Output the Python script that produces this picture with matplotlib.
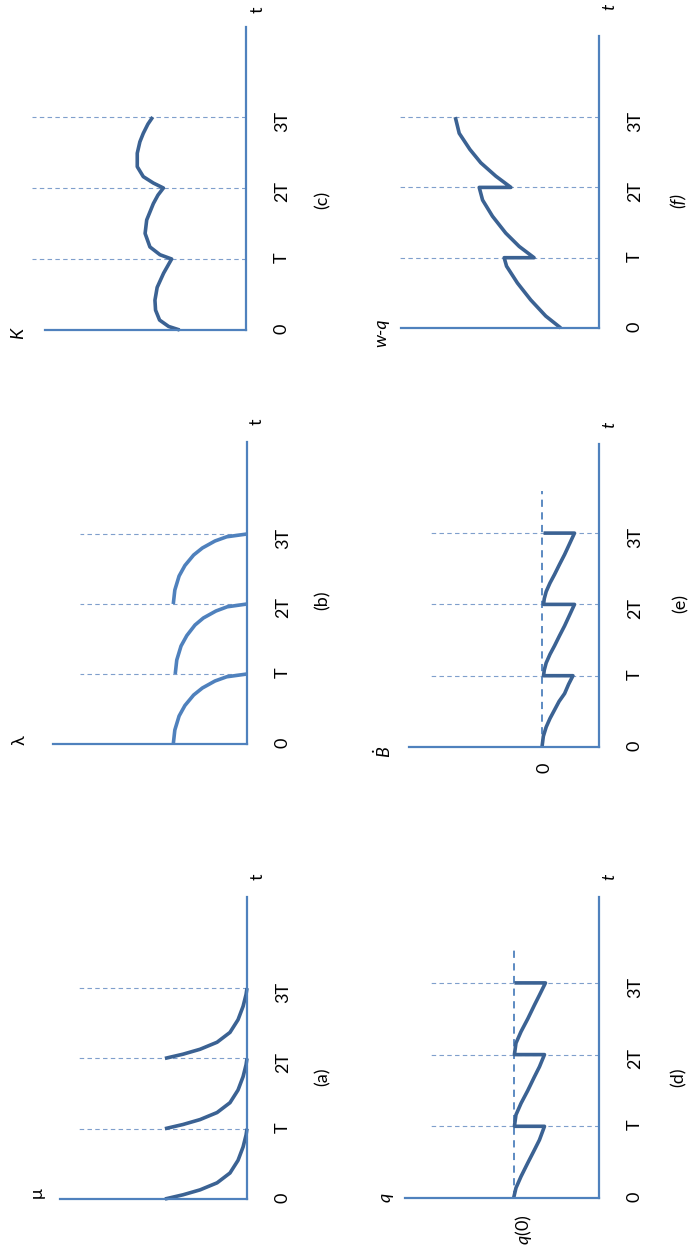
import matplotlib
matplotlib.use('Agg')
import matplotlib.pyplot as plt

plt.rcParams['font.family'] = ['Lato', 'DejaVu Sans']
plt.rcParams['mathtext.fontset'] = 'custom'
plt.rcParams['mathtext.it'] = 'Lato:italic'
plt.rcParams['mathtext.rm'] = 'Lato'

W, H = 692, 1258
AXIS_C = '#4f81bd'
CURVE_C = '#3b6293'
DASH_C = '#7f9fcc'
FS = 13

# ---- data: t in units of T, value in tenths of the value-axis length ----
tick_pos = [0, 1, 2, 3]
tick_labels = ['0', 'T', '2T', '3T']

# (a) mu : three decaying pieces
mu_t = [[0.0, 0.06, 0.13, 0.23, 0.37, 0.55, 0.74, 0.91, 1.0],
        [1.0, 1.06, 1.13, 1.23, 1.37, 1.55, 1.74, 1.91, 2.0],
        [2.0, 2.06, 2.13, 2.23, 2.37, 2.55, 2.74, 2.91, 3.0]]
mu_v = [[4.39, 3.42, 2.51, 1.6, 0.91, 0.48, 0.21, 0.05, 0.0],
        [4.39, 3.42, 2.51, 1.6, 0.91, 0.48, 0.21, 0.05, 0.0],
        [4.39, 3.42, 2.51, 1.6, 0.91, 0.48, 0.21, 0.05, 0.0]]

# (b) lambda : three quarter arcs
lam_t = [[0.0, 0.2, 0.4, 0.55, 0.7, 0.8, 0.9, 0.96, 1.0],
         [1.0, 1.2, 1.4, 1.55, 1.7, 1.8, 1.9, 1.96, 2.0],
         [2.0, 2.2, 2.4, 2.55, 2.7, 2.8, 2.9, 2.96, 3.0]]
lam_v = [[3.8, 3.72, 3.5, 3.2, 2.75, 2.3, 1.65, 1.05, 0.0],
         [3.7, 3.62, 3.4, 3.1, 2.68, 2.25, 1.6, 1.02, 0.0],
         [3.8, 3.72, 3.5, 3.2, 2.75, 2.3, 1.65, 1.05, 0.0]]

# (c) K
k_t = [0.0, 0.05, 0.14, 0.28, 0.42, 0.6, 0.8, 1.0,
       1.06, 1.17, 1.36, 1.55, 1.78, 1.9, 2.0,
       2.07, 2.16, 2.3, 2.49, 2.65, 2.77, 2.9, 3.0]
k_v = [3.3, 3.85, 4.3, 4.5, 4.53, 4.42, 4.1, 3.7,
       4.28, 4.78, 5.02, 4.94, 4.61, 4.38, 4.11,
       4.61, 5.11, 5.41, 5.41, 5.28, 5.11, 4.88, 4.64]

# (d) q, reference level q(0)
q0_level = 4.4
q_t = [0.0, 0.14, 0.3, 0.49, 0.67, 0.81, 1.0, 1.0,
       1.16, 1.32, 1.5, 1.69, 1.83, 2.0, 2.0,
       2.16, 2.32, 2.5, 2.69, 2.83, 3.0, 3.0]
q_v = [4.4, 4.28, 4.02, 3.67, 3.33, 3.07, 2.81, 4.36,
       4.28, 4.02, 3.67, 3.33, 3.07, 2.81, 4.36,
       4.28, 4.02, 3.67, 3.33, 3.07, 2.76, 4.36]

# (e) B-dot, zero level
b0_level = 3.0
b_t = [0.0, 0.15, 0.28, 0.4, 0.52, 0.64, 0.75, 0.88, 1.0, 1.0,
       1.08, 1.18, 1.3, 1.42, 1.56, 1.7, 1.85, 2.0, 2.0,
       2.08, 2.18, 2.3, 2.42, 2.56, 2.7, 2.85, 3.0, 3.0]
b_v = [3.0, 2.93, 2.78, 2.58, 2.34, 2.1, 1.81, 1.6, 1.37, 2.92,
       2.88, 2.78, 2.58, 2.34, 2.08, 1.81, 1.55, 1.29, 2.92,
       2.88, 2.78, 2.58, 2.34, 2.08, 1.81, 1.55, 1.29, 2.92]

# (f) w-q
wq_t = [0.0, 0.17, 0.4, 0.64, 0.88, 1.0, 1.0,
        1.16, 1.35, 1.59, 1.82, 2.0, 2.0,
        2.16, 2.35, 2.54, 2.77, 3.0]
wq_v = [1.93, 2.69, 3.45, 4.12, 4.67, 4.79, 3.28,
        4.03, 4.71, 5.38, 5.88, 6.05, 4.45,
        5.21, 5.97, 6.52, 7.06, 7.26]

fig = plt.figure(figsize=(W / 100, H / 100), dpi=100)


def ftext(x, y, s, **kw):
    # x, y are pixel centres in the picture
    fig.text(x / W, 1 - y / H, s, rotation=90, ha='center', va='center',
             fontsize=FS, **kw)


def panel(x0, x10, y0, tpx, tmax, dash_end):
    sx = (x0 - x10) / 10.0
    left = x0 - 11 * sx
    ax = fig.add_axes([left / W, (H - y0) / H, (x0 - left) / W, tmax * tpx / H])
    ax.set_xlim(11, 0)
    ax.set_ylim(0, tmax)
    ax.patch.set_alpha(0)
    ax.spines['top'].set_visible(False)
    ax.spines['left'].set_visible(False)
    ax.spines['bottom'].set_bounds(0, 10)
    for s in ['bottom', 'right']:
        ax.spines[s].set_color(AXIS_C)
        ax.spines[s].set_linewidth(1.6)
    ax.set_xticks([])
    ax.yaxis.tick_right()
    ax.set_yticks(tick_pos, tick_labels)
    ax.tick_params(axis='y', length=0, pad=20, labelrotation=90, labelsize=FS)
    ax.hlines(tick_pos[1:], 0, dash_end, colors=DASH_C, linewidth=0.8,
              linestyles=(0, (4, 3)))
    return ax


def curve(ax, v, t, color=CURVE_C):
    ax.plot(v, t, color=color, lw=2.6, clip_on=False,
            solid_joinstyle='round', solid_capstyle='butt')


# --- (a) mu ---
ax = panel(247, 60, 1199, 70.3, 4.3, 9.14)
for t, v in zip(mu_t, mu_v):
    curve(ax, v, t)
ftext(37, 1193, 'μ')
ftext(258, 877, 't')
ftext(323, 1077, '(a)')

# --- (b) lambda ---
ax = panel(247, 53, 744, 70.0, 4.31, 8.6)
for t, v in zip(lam_t, lam_v):
    curve(ax, v, t, AXIS_C)
ftext(20, 740, 'λ')
ftext(257, 422, 't')
ftext(323, 600, '(b)')

# --- (c) K ---
ax = panel(246, 45, 330, 71.0, 4.27, 10.65)
curve(ax, k_v, k_t)
ftext(18, 333, 'K', style='italic')
ftext(258, 10, 't')
ftext(323, 200, '(c)')

# --- (d) q ---
ax = panel(599, 405, 1198, 71.7, 4.2, 8.76)
ax.vlines(q0_level, 0, 3.52, colors=AXIS_C, linewidth=1.3, linestyles=(0, (4, 3)))
curve(ax, q_v, q_t)
ftext(386, 1197, 'q', style='italic')
ftext(524, 1230, r'$q$(0)')
ftext(609, 877, 't', style='italic')
ftext(679, 1077, '(d)')

# --- (e) B-dot ---
ax = panel(599, 409, 747, 71.3, 4.25, 8.95)
ax.vlines(b0_level, 0, 3.59, colors=AXIS_C, linewidth=1.3, linestyles=(0, (4, 3)))
curve(ax, b_v, b_t)
ftext(383, 752, r'$\dot{B}$')
ftext(544, 768, '0')
ftext(609, 425, 't', style='italic')
ftext(681, 603, '(e)')

# --- (f) w-q ---
ax = panel(599, 401, 328, 70.3, 4.15, 10.1)
curve(ax, wq_v, wq_t)
ftext(381, 333, 'w-q', style='italic')
ftext(609, 7, 't', style='italic')
ftext(679, 200, '(f)', style='italic')

fig.savefig('out.png', dpi=100)
